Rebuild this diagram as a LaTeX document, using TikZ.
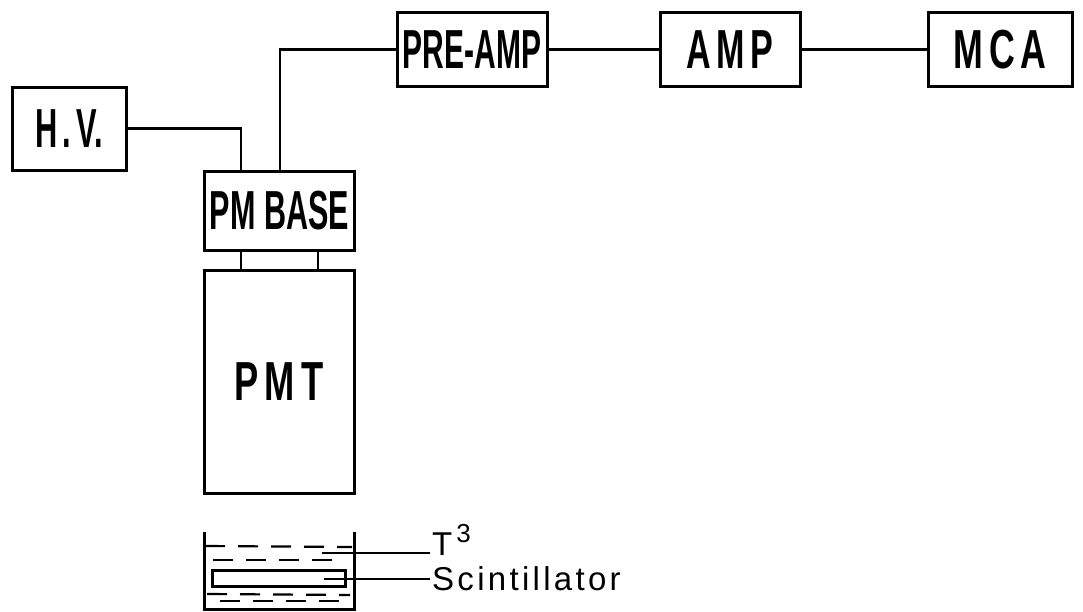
\documentclass[tikz,border=0pt]{standalone}
\usepackage{graphicx}
\usepackage{fontspec}
\setmainfont{Liberation Sans}
\tikzset{
  blk/.style={draw,line width=3pt,inner sep=0pt,font=\fontsize{55}{55}\selectfont\bfseries},
  wire/.style={line width=2.6pt},
  liquid/.style={line width=2.2pt,dash pattern=on 20pt off 13pt},
  lbl/.style={inner sep=0pt,anchor=base west,font=\fontsize{33}{33}\selectfont\addfontfeatures{LetterSpace=10}}
}
\newcommand{\narrow}[2]{\scalebox{#1}[1]{#2}}
\begin{document}
\begin{tikzpicture}[x=1pt,y=-1pt]
        \useasboundingbox (0,0) rectangle (1083,611);
        \node[blk,minimum width=114pt,minimum height=83pt] (hv) at (69,128.5) {\narrow{.56}{H\,.\,V.}};
        \node[blk,minimum width=150pt,minimum height=79pt] (base) at (279.5,210.5) {\narrow{.555}{PM BASE}};
        \node[blk,minimum width=150pt,minimum height=74pt] (preamp) at (472,49.5) {\narrow{.545}{PRE-AMP}};
        \node[blk,minimum width=140pt,minimum height=74pt] (amp) at (730,49.5) {\narrow{.62}{A\,M\,P}};
        \node[blk,minimum width=144pt,minimum height=74pt] (mca) at (1000,49.5) {\narrow{.65}{M\,C\,A}};
        \node[blk,minimum width=150pt,minimum height=223pt] (pmt) at (279,381.5) {\narrow{.66}{P\,M\,T}};
        % connections
        \coordinate (hvin) at (241,171);
        \coordinate (sigout) at (280,171);
        \coordinate (pin) at (318,171);
        \draw[wire] (hv.east) -| (hvin);
        \draw[wire] (preamp.west) -| (sigout);
        \draw[wire] (preamp) -- (amp);
        \draw[wire] (amp) -- (mca);
        \draw[wire] (base.south -| hvin) -- (pmt.north -| hvin);
        \draw[wire] (base.south -| pin) -- (pmt.north -| pin);
        % vial
        \draw[line width=3pt] (204,532) -- (204,609) -- (354,609) -- (354,532);
        \draw[liquid] (205,546) -- (352,547);
        \draw[liquid] (213,560) -- (340,560);
        \draw[liquid] (207,594) -- (350,595);
        \draw[liquid] (220,601) -- (345,601);
        \node[draw,line width=3pt,minimum width=133pt,minimum height=16pt,inner sep=0pt,fill=white] (scint) at (279,578) {};
        \node[lbl] (tlabel) at (432,555) {T\kern4pt\raisebox{13pt}{\fontsize{26}{26}\selectfont 3}};
        \node[lbl] (slabel) at (432,590) {Scintillator};
        \coordinate (tend) at (322,553);
        \coordinate (tstart) at (430,553);
        \coordinate (send) at (324,579);
        \coordinate (sstart) at (430,579);
        \draw[wire] (tend) -- (tstart);
        \draw[wire] (send) -- (sstart);
\end{tikzpicture}
\end{document}
